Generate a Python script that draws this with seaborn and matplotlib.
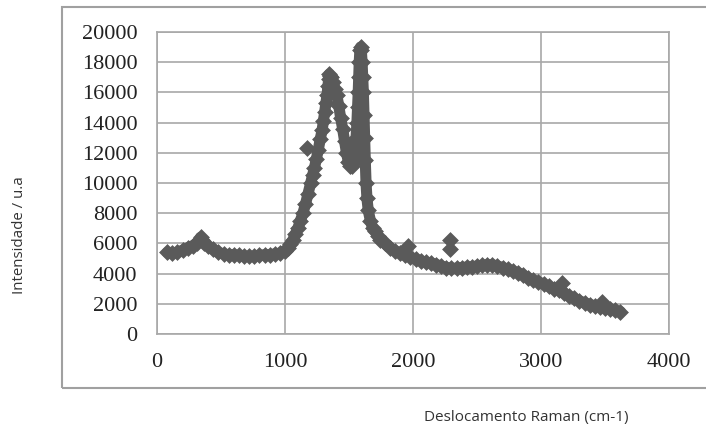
import matplotlib
matplotlib.use('Agg')
import matplotlib.pyplot as plt
from matplotlib.patches import Rectangle
import seaborn as sns
import pandas as pd

# 스펙트럼 데이터
raman_shift = [
    80, 120, 160, 200, 240, 280, 310, 330, 340, 350, 370, 400, 440, 480, 520, 560,
    600, 640, 680, 720, 760, 800, 840, 880, 920, 960, 1000,
    1020, 1040, 1060, 1080, 1100, 1120, 1140, 1160, 1180, 1200, 1215, 1230, 1245,
    1260, 1275, 1290, 1300, 1310, 1320, 1328, 1335, 1340, 1345, 1350,
    1360, 1375, 1390, 1405, 1420, 1435, 1450, 1465, 1480, 1495, 1510, 1525, 1538,
    1548, 1555, 1562, 1567, 1572, 1576, 1580, 1585, 1590, 1596,
    1602, 1607, 1612, 1617, 1622, 1627, 1633, 1640, 1650, 1667, 1685, 1705, 1725, 1745,
    1780, 1820, 1860, 1900, 1940, 1980, 2020, 2060, 2100, 2140, 2180, 2220, 2260,
    2300, 2340, 2380, 2420, 2460, 2500, 2540, 2580, 2620, 2660, 2700, 2740, 2780,
    2820, 2860, 2900, 2940, 2980, 3020, 3060, 3100, 3140, 3180, 3220, 3260, 3300,
    3340, 3380, 3420, 3460, 3500, 3540, 3580, 3620,
]
intensity = [
    5400, 5350, 5400, 5550, 5700, 5850, 6000, 6200, 6400, 6200, 6000, 5800, 5600, 5400, 5300, 5250,
    5250, 5200, 5150, 5150, 5150, 5200, 5250, 5250, 5300, 5350, 5500,
    5700, 5950, 6200, 6600, 7000, 7500, 8000, 8600, 9300, 10000, 10500, 11000, 11600,
    12200, 12900, 13500, 14100, 14700, 15300, 15800, 16400, 16900, 17200, 17100,
    17000, 16700, 16200, 15800, 15100, 14300, 13600, 12800, 12000, 11400, 11150, 11100, 11400,
    12000, 13000, 14000, 15000, 16000, 17000, 18000, 18800, 19000, 18800,
    18000, 17000, 16000, 14500, 13000, 11500, 10000, 9000, 8200, 7500, 7000, 6800, 6500, 6250,
    6000, 5700, 5500, 5350, 5200, 5100, 4950, 4850, 4750, 4700, 4600, 4500, 4400,
    4350, 4350, 4400, 4430, 4450, 4500, 4550, 4580, 4580, 4500, 4400, 4300, 4150,
    4050, 3900, 3700, 3550, 3450, 3300, 3150, 3000, 2900, 2700, 2500, 2350, 2200,
    2050, 1950, 1870, 1800, 1750, 1650, 1560, 1480,
]

# 튀는 점들
outlier_shift = [1170, 1960, 2290, 2290, 3164, 3480]
outlier_intensity = [12300, 5800, 6200, 5600, 3400, 2100]

x_ticks = [0, 1000, 2000, 3000, 4000]
y_ticks = list(range(0, 20001, 2000))

spec = pd.DataFrame({'shift': raman_shift, 'intensity': intensity})
df = pd.DataFrame({
    'shift': raman_shift + outlier_shift,
    'intensity': intensity + outlier_intensity,
})

sns.set_style('white')
mark_color = '#5a5a5a'

fig = plt.figure(figsize=(7.06, 4.30), dpi=100)
ax = fig.add_axes([0.2224, 0.2233, 0.7252, 0.7023])

# 점들이 빽빽하게 붙어 보이도록 굵은 선을 아래에 깔기
sns.lineplot(data=spec, x='shift', y='intensity', sort=False, estimator=None,
             color=mark_color, linewidth=8, solid_capstyle='round',
             solid_joinstyle='round', ax=ax, zorder=2)
sns.scatterplot(data=df, x='shift', y='intensity', marker='D', s=65,
                color=mark_color, edgecolor=mark_color, linewidth=0.5, ax=ax, zorder=3)

ax.set_xlim(0, 4000)
ax.set_ylim(0, 20000)
ax.set_xticks(x_ticks)
ax.set_yticks(y_ticks)
ax.set_xticklabels([str(t) for t in x_ticks], family='Liberation Serif', fontsize=16, color='#222222')
ax.set_yticklabels([str(t) for t in y_ticks], family='Liberation Serif', fontsize=16, color='#222222')
ax.tick_params(length=0, pad=14)
ax.grid(True, color='#a8a8a8', linewidth=1.2)
ax.set_axisbelow(True)
for sp in ax.spines.values():
    sp.set_color('#a8a8a8')
    sp.set_linewidth(1.2)
ax.set_xlabel('')
ax.set_ylabel('')

# 바깥 차트 테두리
frame = Rectangle((62 / 706, 1 - 388 / 430), 1.0, (388 - 7) / 430,
                  transform=fig.transFigure, fill=False, edgecolor='#a0a0a0',
                  linewidth=1.5, clip_on=False)
fig.patches.append(frame)

fig.text(20 / 706, 1 - 235 / 430, 'Intensidade / u.a', rotation=90, ha='center', va='center',
         family='Open Sans', fontsize=10.8, color='#333333')
fig.text(526 / 706, 1 - 417 / 430, 'Deslocamento Raman (cm-1)', ha='center', va='center',
         family='Open Sans', fontsize=11, color='#333333')

fig.savefig('out.png', dpi=100)
